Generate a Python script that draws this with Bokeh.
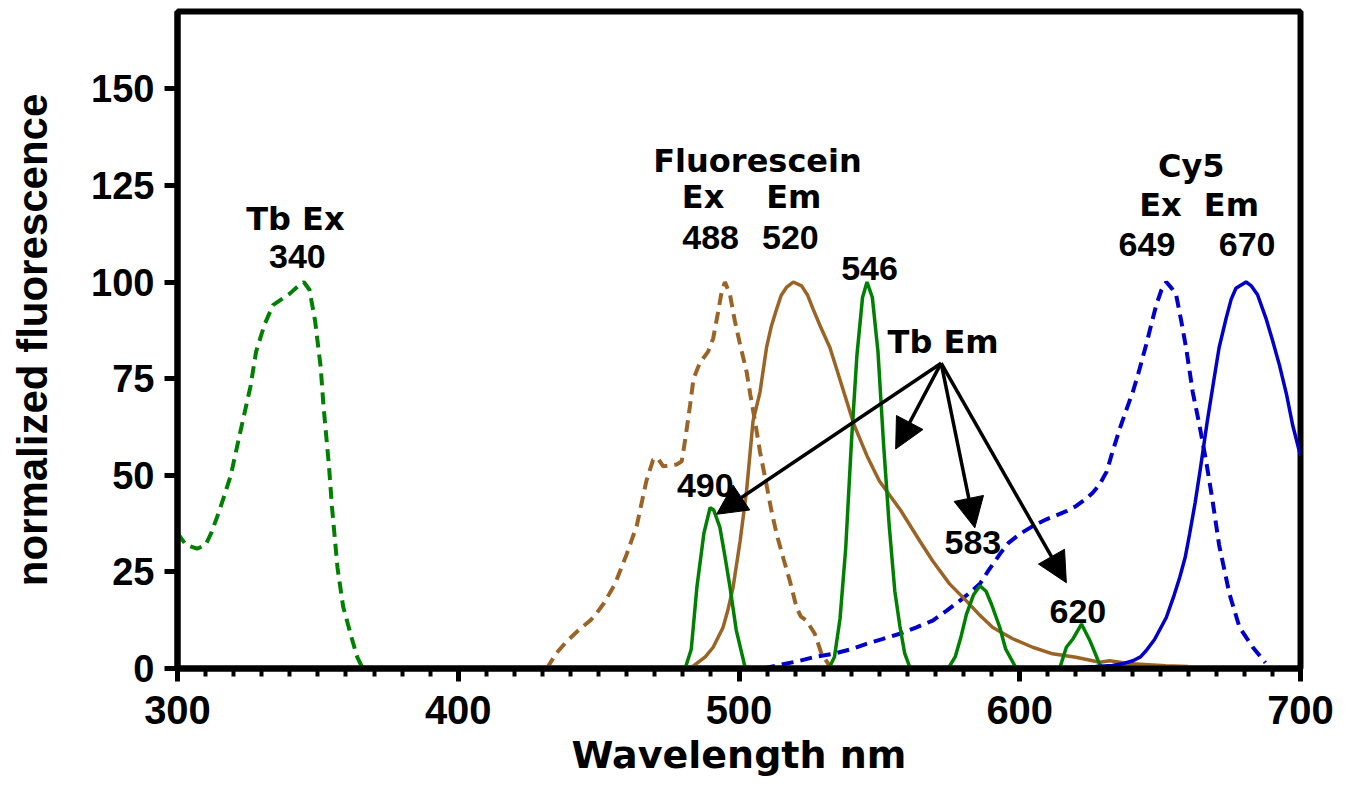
from bokeh.plotting import figure
from bokeh.models import (ColumnDataSource, Arrow, NormalHead, FixedTicker,
                          SingleIntervalTicker, Range1d)
from bokeh.core.properties import value
from bokeh.embed import file_html
from bokeh.resources import INLINE

# ---------------- data ----------------
tb_ex_nm = [300, 303, 307, 310, 312, 315, 319, 322, 326, 328, 331, 334, 337, 340,
            343, 345, 347, 349, 351, 352, 354, 355, 357, 359, 362, 364, 366]
tb_ex_val = [35, 32, 31, 32, 35, 41, 50, 60, 73, 82, 89, 94, 95.5, 97,
             99, 100, 98, 90, 78, 68, 52, 42, 26, 16, 8, 3, 0]

fl_ex_nm = [431.5, 435, 438.6, 443, 447, 449, 452, 455.9, 460, 463.6, 467, 469.4, 471,
            473, 477.8, 479.6, 481, 482.6, 483.8, 486, 489, 490.8, 492.5, 493.8, 495,
            496.8, 498.5, 500.4, 502.7, 504, 505.7, 507.5, 509.8, 511.5, 513.4, 516,
            518.1, 520.5, 522, 524, 527, 529.4, 531.7, 533]
fl_ex_val = [0, 4, 7, 10, 12.4, 14, 17, 22, 29.6, 37, 48.5, 54, 54.5,
             52.3, 52.8, 53.6, 60, 68.3, 75, 79, 82, 85.4, 92, 97.4, 100,
             96.7, 90, 83.8, 76.8, 71, 64, 56, 47.6, 41, 34.8, 28,
             22.7, 15.8, 13.5, 12.4, 9, 3.8, 1.3, 0]

fl_em_nm = [482, 484, 488, 490.8, 494.3, 496, 497.9, 500.4, 502.7, 505, 507.5, 509.8,
            511.5, 513.4, 515, 517, 519.3, 522.3, 524.5, 526.4, 529, 532.4, 535, 538,
            541, 545.6, 550, 557.5, 564.4, 569, 575, 581, 585.5, 590.4, 597.5, 604.6,
            611.7, 620, 628.5, 632, 640, 652, 660]
fl_em_val = [0, 0.8, 3, 5.5, 10.6, 15, 21, 33, 46, 64, 71.6, 83,
             88.5, 93, 96.5, 98.7, 100, 99, 96.5, 93, 88.5, 83, 77, 70,
             63, 55, 48.5, 41, 33, 27.8, 21.9, 17.5, 14, 10.6, 7.7, 5.5,
             3.8, 2.9, 1.6, 2, 1.2, 0.7, 0.5]

tb_em_nm = [478, 480.8, 483, 485, 487.5, 489.7, 491, 493.2, 495, 496.8, 499, 502, 503,
            532, 534, 536, 538, 540, 542, 544, 545.6, 547.5, 549.5, 551.5, 553.5, 555.5,
            557.3, 559, 561,
            574.5, 577, 579, 581, 583.5, 585.8, 588, 590, 592.9, 595, 598.8,
            614.2, 616.6, 619, 622, 625, 628.5, 630]
tb_em_val = [0, 0, 5, 21, 35, 41.6, 41, 36.5, 29, 21, 10, 0.8, 0,
             0, 3, 13, 31, 58, 81, 96, 100, 96, 82, 58, 37, 20,
             11, 4, 0,
             0, 3, 8, 14, 19, 21.4, 20, 16.5, 10.6, 5, 0,
             0, 5.5, 7.7, 11.5, 7.2, 1, 0]

cy5_ex_nm = [508.6, 515, 521.7, 527, 533.5, 540, 545.4, 551, 557.3, 563, 569, 574,
             578.6, 582, 585.8, 589, 592.9, 596, 600, 605, 609.5, 613, 616.6, 620,
             623.7, 626, 628.5, 631, 633, 635.6, 638, 640.3, 642.5, 645, 648.6, 650.5,
             652.2, 654, 655.7, 657.5, 659.3, 661.6, 664, 666.4, 668.7, 671, 674.7,
             678.3, 683, 687.5]
cy5_ex_val = [0, 1, 2, 3, 3.8, 5, 6.4, 7.6, 9, 10.6, 12.4, 15,
              17.5, 19.5, 21.9, 25.5, 29.6, 32.5, 34.8, 37, 38.6, 39.6, 40.7, 42,
              44, 45.5, 47.7, 51, 56, 62, 67, 71.6, 77, 83.7, 94, 98,
              100, 98.5, 96.7, 90, 82.8, 71.6, 63, 53.6, 43.3, 32, 19.3,
              10.6, 5.5, 1.5]

cy5_em_nm = [610, 620, 627, 633, 637, 640.3, 643, 645, 648, 652.2, 655, 657, 659,
             660.5, 662.5, 664.4, 666.8, 669, 671, 673.5, 675.3, 677, 680.6,
             682.5, 684.7, 687.7, 690, 692.5, 695, 697.2, 700]
cy5_em_val = [0, 0.2, 0.5, 0.8, 1.3, 2, 3, 4.6, 7.5, 13.2, 19, 23.6, 29,
              34.8, 43, 52, 64, 74, 83, 90.6, 95.5, 98.4, 100,
              99, 96.7, 90.6, 85, 78.5, 71, 63, 55]

x_ticks = [300, 400, 500, 600, 700]
y_ticks = [0, 25, 50, 75, 100, 125, 150]

# header labels (words) and number labels
word_text = ["Tb Ex", "Fluorescein", "Ex", "Em", "Tb Em", "Cy5", "Ex", "Em"]
word_x = [342.0, 506.6, 487.2, 519.5, 572.7, 661.1, 650.1, 675.4]
word_y = [116.3, 131.4, 122.0, 122.0, 84.4, 129.9, 120.0, 120.0]

num_text = ["340", "488", "520", "546", "490", "583", "620", "649", "670"]
num_x = [342.7, 489.9, 518.3, 546.5, 488.0, 583.3, 620.7, 645.3, 681.0]
num_y = [106.5, 111.6, 111.6, 103.6, 47.3, 32.5, 14.8, 109.7, 109.7]

# Tb Em pointer arrows: common origin and tips
arrow_origin = (572.0, 79.0)
arrow_tip_x = [492.0, 555.8, 584.0, 616.6]
arrow_tip_y = [39.9, 56.8, 36.4, 22.2]

# ---------------- figure ----------------
GREEN = "#008000"
BROWN = "#9a6426"
BLUE = "#0000c8"
WFONT = "DejaVu Sans"
NFONT = "Liberation Sans"

p = figure(width=1335, height=782,
           x_range=Range1d(300, 700), y_range=Range1d(0, 170),
           output_backend="svg", toolbar_location=None,
           min_border_left=177, min_border_right=35,
           min_border_top=11, min_border_bottom=114)

p.xgrid.visible = False
p.ygrid.visible = False
p.background_fill_color = "white"
p.border_fill_color = "white"
p.outline_line_color = "black"
p.outline_line_width = 6

p.line(tb_ex_nm, tb_ex_val, line_color=GREEN, line_width=4, line_dash="12 7")
p.line(fl_ex_nm, fl_ex_val, line_color=BROWN, line_width=4, line_dash="12 7")
p.line(cy5_ex_nm, cy5_ex_val, line_color=BLUE, line_width=4, line_dash="12 7")
p.line(fl_em_nm, fl_em_val, line_color=BROWN, line_width=3.5)
p.line(tb_em_nm, tb_em_val, line_color=GREEN, line_width=3.5)
p.line(cy5_em_nm, cy5_em_val, line_color=BLUE, line_width=3.5)

for tx, ty in zip(arrow_tip_x, arrow_tip_y):
    p.add_layout(Arrow(x_start=arrow_origin[0], y_start=arrow_origin[1],
                       x_end=tx, y_end=ty, line_color="black", line_width=3.5,
                       end=NormalHead(size=30, fill_color="black", line_color="black",
                                      line_width=1)))

wsrc = ColumnDataSource(dict(x=word_x, y=word_y, t=word_text))
p.text(x="x", y="y", text="t", source=wsrc, text_font=value(WFONT),
       text_font_style="bold", text_font_size="32px", text_align="center",
       text_baseline="middle", text_color="black")
nsrc = ColumnDataSource(dict(x=num_x, y=num_y, t=num_text))
p.text(x="x", y="y", text="t", source=nsrc, text_font=value(NFONT),
       text_font_style="bold", text_font_size="34px", text_align="center",
       text_baseline="middle", text_color="black")

# x axis
xa = p.xaxis[0]
xa.ticker = SingleIntervalTicker(interval=100, num_minor_ticks=10)
xa.axis_line_width = 6
xa.major_tick_line_width = 5
xa.major_tick_out = 13
xa.major_tick_in = 0
xa.minor_tick_line_width = 4
xa.minor_tick_out = 8
xa.minor_tick_in = 0
xa.major_label_text_font = NFONT
xa.major_label_text_font_style = "bold"
xa.major_label_text_font_size = "40px"
xa.major_label_text_color = "black"
xa.major_label_standoff = 14
xa.axis_label = "Wavelength nm"
xa.axis_label_text_font = WFONT
xa.axis_label_text_font_style = "bold"
xa.axis_label_text_font_size = "38px"
xa.axis_label_text_color = "black"
xa.axis_label_standoff = 6

# y axis
ya = p.yaxis[0]
ya.ticker = FixedTicker(ticks=y_ticks)
ya.axis_line_width = 6
ya.major_tick_line_width = 5
ya.major_tick_out = 13
ya.major_tick_in = 0
ya.minor_tick_line_color = None
ya.major_label_text_font = NFONT
ya.major_label_text_font_style = "bold"
ya.major_label_text_font_size = "38px"
ya.major_label_text_color = "black"
ya.major_label_standoff = 10
ya.axis_label = "normalized fluorescence"
ya.axis_label_text_font = "Liberation Sans"
ya.axis_label_text_font_style = "bold"
ya.axis_label_text_font_size = "42px"
ya.axis_label_text_color = "black"
ya.axis_label_standoff = 32

open("out.html", "w").write(file_html(p, INLINE))
